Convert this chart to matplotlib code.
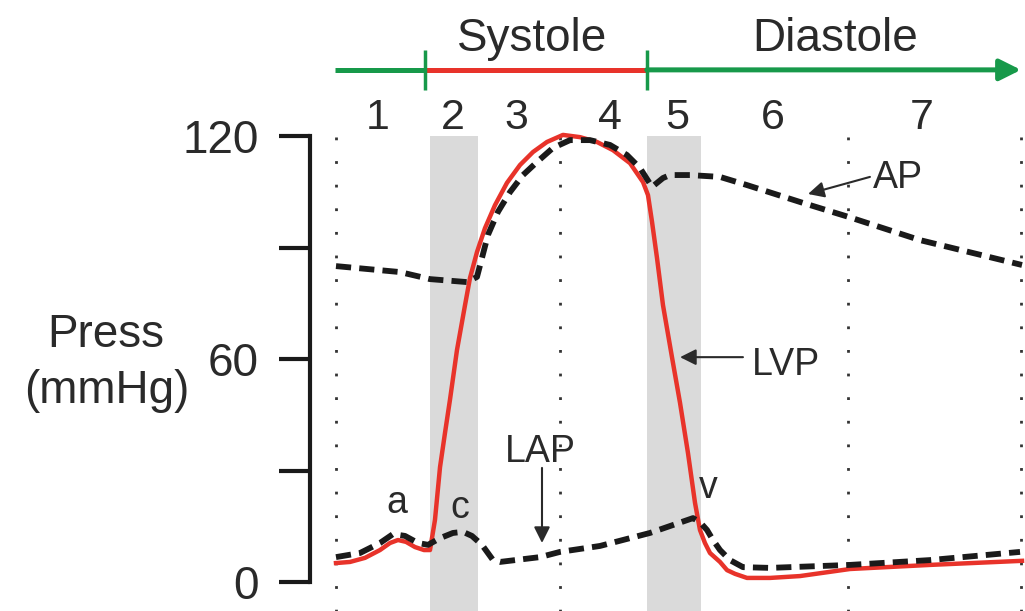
import matplotlib
matplotlib.use("Agg")
from matplotlib import pyplot as plt

plt.rcParams['font.family'] = ['Liberation Sans', 'DejaVu Sans']

# time in ms, pressure in mmHg
lvp_t = [0, 16.4, 33.9, 51.4, 63.1, 72.4, 81.8, 92.3, 102.8, 109.8, 115.6, 121.5,
         127.3, 133.1, 141.3, 150.7, 156.5, 164.7, 174.0, 185.7, 199.7, 214.9,
         230.1, 246.4, 265.1, 285.0, 304.8, 323.5, 343.4, 358.6, 364.4, 369.1,
         374.9, 381.9, 392.4, 401.8, 411.1, 419.3, 425.1, 430.9, 436.8, 448.5,
         456.7, 466.0, 480.0, 506.9, 541.9, 600.3, 693.7, 801.2]
lvp_p = [5.1, 5.4, 6.5, 8.6, 10.5, 11.3, 10.8, 9.4, 8.6, 8.6, 16.7, 30.9,
         40.1, 49.0, 62.4, 74.5, 81.8, 88.8, 95.2, 101.4, 107.4, 112.2,
         115.7, 118.4, 120.3, 119.7, 118.4, 116.2, 112.7, 107.6, 104.1, 96.9,
         87.2, 74.5, 60.5, 48.2, 34.7, 21.3, 14.0, 10.5, 7.8, 5.4,
         3.2, 2.2, 1.1, 1.1, 1.6, 3.5, 4.6, 5.7]

ap_t = [0, 74.7, 109.8, 153.0, 164.7, 170.5, 177.5, 189.2, 203.2, 218.4, 234.7,
        253.4, 273.3, 296.6, 320.0, 339.8, 355.0, 369.1, 381.9, 390.1, 413.4,
        448.5, 480.0, 545.4, 599.1, 682.0, 801.2]
ap_p = [85.0, 83.4, 81.5, 80.7, 82.1, 87.2, 93.4, 99.6, 104.9, 109.5, 113.0,
        116.8, 118.9, 118.9, 117.6, 114.9, 111.4, 106.3, 108.7, 109.5, 109.5,
        109.0, 106.8, 102.0, 98.2, 92.0, 85.3]

lap_t = [0, 28.0, 51.4, 66.6, 80.6, 95.8, 107.5, 121.5, 136.6, 148.3, 158.8,
         170.5, 183.4, 191.5, 238.3, 261.6, 308.3, 366.7, 417.0, 425.1, 433.3,
         440.3, 448.5, 460.1, 475.3, 506.9, 600.3, 693.7, 798.9]
lap_p = [6.7, 7.8, 10.5, 12.9, 12.4, 10.5, 10.0, 11.8, 13.2, 13.5, 12.4,
         10.0, 5.9, 5.4, 6.7, 8.1, 9.7, 13.2, 17.2, 16.1, 14.0,
         11.3, 8.6, 5.9, 4.0, 3.8, 4.6, 5.9, 8.1]

phase_labels = ['1', '2', '3', '4', '5', '6', '7']
phase_label_t = [49, 137, 211, 320, 398, 510, 684]
shaded = [(110, 166), (363, 426)]
dotted = [0, 262, 598, 800]

green = '#17994a'
red = '#e8332a'
ink = '#2a2a2a'

fig = plt.figure(figsize=(10.25, 6.11), dpi=100)
ax = fig.add_axes([0, 0, 1, 1])
ax.set_xlim(-392.4, 804.7)
ax.set_ylim(-7.8, 156.6)

# phase shading and dotted separators
for t0, t1 in shaded:
    ax.fill_between([t0, t1], -10, 120, color='#dadada', lw=0, zorder=1)
ax.vlines(dotted, -10, 121, colors='#333333', linestyles=(0, (1, 7.5)), lw=2, zorder=1)

# curves
ax.plot(lvp_t, lvp_p, color=red, lw=3.2, zorder=3, solid_joinstyle='round')
ax.plot(ap_t, ap_p, color='#1a1a1a', lw=4.2, ls=(0, (2.6, 1.4)), zorder=4)
ax.plot(lap_t, lap_p, color='#1a1a1a', lw=4.2, ls=(0, (2.6, 1.4)), zorder=4)

# systole / diastole bar
bar_y = 137.8
ax.plot([-1, 104], [bar_y, bar_y], color=green, lw=3.6, solid_capstyle='butt', zorder=3)
ax.plot([104, 363], [bar_y, bar_y], color=red, lw=3.6, solid_capstyle='butt', zorder=3)
ax.annotate('', xy=(800, bar_y), xytext=(363, bar_y),
            arrowprops=dict(arrowstyle='-|>', color=green, lw=3.6, mutation_scale=32,
                            shrinkA=0, shrinkB=0), zorder=3)
ax.vlines([104, 363], 132.4, 143.1, colors=green, lw=2.5, zorder=4)
ax.text(229, 143.0, 'Systole', ha='center', va='baseline', fontsize=33, color=ink)
ax.text(583, 143.0, 'Diastole', ha='center', va='baseline', fontsize=33, color=ink)

for t, lab in zip(phase_label_t, phase_labels):
    ax.text(t, 121.8, lab, ha='center', va='baseline', fontsize=31, color=ink)

# y axis
for s in ['top', 'right', 'bottom']:
    ax.spines[s].set_visible(False)
ax.spines['left'].set_position(('data', -30.4))
ax.spines['left'].set_bounds(0, 120)
ax.spines['left'].set_linewidth(3)
ax.spines['left'].set_color('#1a1a1a')
ax.set_xticks([])
ax.set_yticks([0, 30, 60, 90, 120])
ax.set_yticklabels(['0', '', '60', '', '120'])
ax.tick_params(axis='y', length=22, width=3, pad=15, labelsize=33,
               color='#1a1a1a', labelcolor=ink)
ax.text(-268.6, 63.2, 'Press', ha='center', va='baseline', fontsize=33, color=ink)
ax.text(-267.5, 48.2, '(mmHg)', ha='center', va='baseline', fontsize=33, color=ink)

# annotations
arrow = dict(arrowstyle='-|>', color=ink, lw=1.5, mutation_scale=24, shrinkA=0, shrinkB=0)
ax.annotate('', xy=(551.3, 104.4), xytext=(623.6, 109.0), arrowprops=arrow, zorder=5)
ax.text(627.2, 106.0, 'AP', ha='left', va='baseline', fontsize=27, color=ink)
ax.annotate('', xy=(401.8, 60.5), xytext=(475.3, 60.5), arrowprops=arrow, zorder=5)
ax.text(485.8, 55.7, 'LVP', ha='left', va='baseline', fontsize=27, color=ink)
ax.annotate('', xy=(240.6, 10.5), xytext=(240.6, 30.7), arrowprops=arrow, zorder=5)
ax.text(238.3, 32.3, 'LAP', ha='center', va='baseline', fontsize=27, color=ink)
ax.text(71.2, 18.6, 'a', ha='center', va='baseline', fontsize=27, color=ink)
ax.text(144.8, 17.2, 'c', ha='center', va='baseline', fontsize=27, color=ink)
ax.text(434.5, 22.6, 'v', ha='center', va='baseline', fontsize=27, color=ink)

plt.savefig('out.png', dpi=100)
